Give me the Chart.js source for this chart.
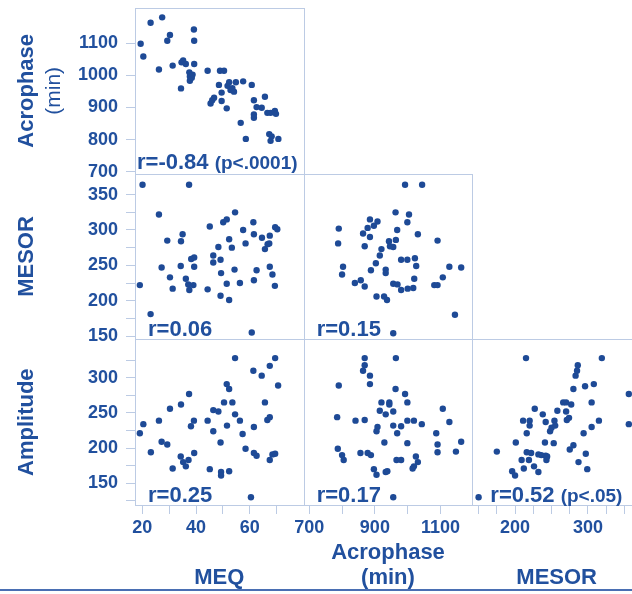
<!DOCTYPE html>
<html>
<head>
<meta charset="utf-8">
<script src="https://cdn.jsdelivr.net/npm/chart.js@4.4.1/dist/chart.umd.min.js"></script>
<style>
  html, body { margin: 0; padding: 0; background: #fff; overflow: hidden; }
  #wrap { position: relative; width: 632px; height: 594px; overflow: hidden; }
  #matrix { position: absolute; left: 0; top: 0; }
  #rule { position: absolute; left: 0; top: 589px; width: 632px; border-top: 2px solid #4a6fb3; }
</style>
</head>
<body>
<div id="wrap">
  <canvas id="matrix" width="645" height="594"></canvas>
  <div id="rule"></div>
</div>
<script>
// Acrophase vs MEQ
let meqA  = [19.4, 20.4, 23.1, 27.4, 26.2, 29.3, 30.3, 31.3, 34.4, 34.6, 35.2, 36.2, 37.5, 37.7, 37.7, 38.4, 39.2, 39.3, 39.3, 38.7,
             44.3, 45.4, 46.0, 46.7, 48.9, 50.4, 48.5, 49.5, 49.5, 51.4, 51.7, 52.3, 52.8, 53.5, 54.1, 54.8, 57.5, 56.6, 58.5, 60.7,
             61.5, 61.5, 61.5, 62.5, 64.4, 65.6, 66.5, 67.7, 69.3, 69.7, 67.2, 68.1, 67.7, 70.6];
let acroA = [1098, 1058, 1163, 1180, 1018, 1107, 1125, 1030, 959, 1040, 1046, 1035, 1009, 996, 983, 992, 1142, 1107, 1035, 1002,
             1014, 912, 922, 930, 1014, 1014, 970, 946, 920, 897, 967, 978, 954, 960, 949, 978, 981, 852, 802, 970,
             922, 878, 868, 901, 899, 933, 883, 883, 889, 880, 817, 810, 796, 802];

// MESOR vs MEQ
let meqB   = [20.1, 37.4, 26.2, 29.3, 35.0, 34.4, 19.1, 23.1, 27.2, 30.3, 31.3, 34.3, 36.2, 37.1, 37.5, 39.0, 38.2, 39.3, 39.3, 44.3,
              45.1, 46.4, 46.4, 48.3, 49.1, 49.3, 49.1, 50.1, 51.4, 52.3, 53.3, 51.4, 52.3, 54.3, 54.5, 56.3, 57.5, 58.4, 61.3, 61.5,
              61.5, 62.5, 64.5, 65.6, 66.6, 67.2, 67.4, 67.4, 68.4, 69.4, 70.2, 69.3, 60.7];
let mesorB = [364, 364, 322, 285, 294, 284, 222, 181, 247, 233, 217, 249, 231, 223, 215, 222, 259, 261, 248, 216,
              305, 264, 254, 276, 258, 239, 207, 311, 315, 287, 275, 224, 201, 244, 325, 225, 300, 281, 311, 294,
              229, 243, 289, 273, 280, 281, 292, 248, 237, 304, 301, 221, 155];

// MESOR vs Acrophase
let acroC  = [992, 1044, 790, 788, 885, 908, 897, 878, 864, 885, 869, 963, 1004, 999, 968, 964, 943, 946, 956, 920,
              915, 1031, 1091, 803, 800, 903, 888, 933, 933, 980, 999, 1022, 1026, 839, 857, 869, 956, 969, 980, 1000,
              1017, 1020, 905, 928, 937, 1081, 1091, 1107, 1127, 1163, 1144, 956];
let mesorC = [364, 364, 302, 281, 315, 312, 306, 303, 295, 290, 277, 325, 322, 311, 300, 286, 284, 277, 276, 273,
              264, 294, 285, 248, 237, 253, 243, 244, 239, 258, 258, 260, 249, 225, 229, 220, 224, 223, 215, 217,
              218, 231, 206, 206, 201, 222, 222, 233, 248, 247, 180, 154];

// Amplitude vs MEQ
let meqD = [19.1, 20.4, 23.2, 26.2, 27.2, 29.3, 30.3, 31.3, 34.4, 34.3, 35.2, 36.2, 37.2, 37.4, 38.1, 39.2, 39.3, 44.3, 45.1, 46.4,
            46.4, 48.3, 49.1, 49.3, 49.3, 50.4, 51.4, 52.3, 51.5, 52.3, 53.5, 54.5, 54.5, 56.3, 57.3, 58.4, 60.4, 61.3, 61.5, 61.5,
            62.5, 64.4, 65.6, 66.5, 67.4, 67.4, 69.4, 70.5, 67.4, 68.4, 69.4];
let ampD = [221, 234, 194, 239, 209, 205, 256, 171, 262, 188, 180, 174, 183, 277, 231, 239, 193, 239, 170, 254,
            224, 252, 208, 166, 161, 265, 291, 284, 232, 167, 265, 328, 248, 239, 220, 199, 130, 310, 230, 193,
            189, 303, 265, 240, 244, 317, 328, 289, 183, 191, 192];

// Amplitude vs Acrophase
let acroE = [869, 964, 869, 864, 885, 885, 790, 963, 992, 999, 920, 944, 944, 915, 933, 956, 785, 841, 869, 999,
             1019, 1043, 1107, 1127, 956, 980, 908, 905, 968, 1087, 929, 999, 1091, 1163, 787, 800, 805, 856, 878, 888,
             1091, 1147, 966, 980, 1025, 1031, 1019, 1015, 897, 905, 933, 938, 956];
let ampE  = [328, 328, 318, 310, 303, 291, 289, 284, 277, 265, 265, 265, 262, 253, 248, 252, 244, 239, 240, 239,
             239, 234, 256, 237, 232, 231, 230, 224, 221, 221, 208, 207, 205, 209, 199, 190, 183, 193, 193, 190,
             194, 195, 183, 183, 188, 180, 174, 171, 170, 162, 166, 167, 130];

// Amplitude vs MESOR
let mesorF = [150, 175, 196, 200, 201, 209, 212, 215, 211, 220, 220, 216, 216, 219, 222, 226, 227, 232, 232, 236,
              238, 241, 242, 242, 243, 244, 248, 250, 253, 254, 255, 258, 266, 270, 270, 271, 274, 277, 275, 280,
              280, 283, 285, 286, 287, 294, 296, 297, 299, 305, 305, 308, 315, 319, 356, 356];
let ampF   = [130, 195, 167, 161, 208, 183, 171, 328, 239, 239, 232, 221, 194, 183, 193, 174, 256, 166, 191, 190,
              248, 208, 237, 189, 183, 188, 224, 229, 207, 239, 232, 253, 265, 265, 252, 240, 243, 262, 198, 204,
              284, 303, 310, 318, 180, 221, 288, 192, 170, 265, 230, 291, 239, 328, 277, 234];

// correlation notes, one per panel
let rText = ['r=-0.84', 'r=0.06', 'r=0.15', 'r=0.25', 'r=0.17', 'r=0.52'];
let pText = ['(p<.0001)', '', '', '', '', '(p<.05)'];

// ticks and which of them carry a label
let meqTicks = [20, 30, 40, 50, 60, 70];
let meqLabels = [20, 40, 60];
let acroTicks = [700, 800, 900, 1000, 1100];
let acroXLabels = [700, 900, 1100];
let acroYLabels = [700, 800, 900, 1000, 1100];
let mesorTicks = [150, 175, 200, 225, 250, 275, 300, 325, 350];
let mesorXLabels = [200, 300];
let mesorYLabels = [150, 200, 250, 300, 350];
let ampTicks = [125, 150, 175, 200, 225, 250, 275, 300, 325];
let ampLabels = [150, 200, 250, 300];

const ink = '#21509e';
const dotColor = '#1e4a96';
const frameColor = '#bccbe4';
const face = '"Liberation Sans", Arial, sans-serif';

function pts(xs, ys) {
    return xs.map((x, i) => ({x: x, y: ys[i]}));
}

function axis(opts) {
    return {
        type: 'linear',
        min: opts.min,
        max: opts.max,
        weight: opts.weight,
        stack: opts.stack,
        stackWeight: 1,
        position: opts.position,
        afterBuildTicks: s => { s.ticks = opts.ticks.map(v => ({value: v})); },
        afterFit: opts.fit,
        ticks: {
            autoSkip: false,
            maxRotation: 0,
            minRotation: 0,
            padding: opts.pad,
            color: ink,
            font: {family: face, size: 18, weight: 'bold'},
            callback: v => opts.labels.includes(v) ? String(v) : ''
        },
        grid: {drawOnChartArea: false, drawTicks: true, tickLength: 9, color: frameColor, lineWidth: 1},
        border: {display: true, color: frameColor, width: 1},
        title: opts.title
    };
}

// fixed box sizes so the panels land where the reference has them
const xFit = s => { s.height = 89; s.paddingLeft = 0; s.paddingRight = 0; };
const yFit = s => { s.width = 135; s.paddingTop = 0; s.paddingBottom = 0; };

const yTitlePad = 13.3;
const yTitleLine = 1.25;

function xTitle(text) {
    return {display: true, text: text, color: ink, padding: {top: 0, bottom: 3.4},
            font: {family: face, size: 22, weight: 'bold', lineHeight: 1.15}};
}
function yTitle(text) {
    return {display: true, text: text, color: ink, padding: {top: yTitlePad, bottom: 0},
            font: {family: face, size: 22, weight: 'bold', lineHeight: yTitleLine}};
}

const panelPlugin = {
    id: 'panels',
    beforeDatasetsDraw(chart) {
        const ctx = chart.ctx;
        ctx.save();
        ctx.strokeStyle = frameColor;
        ctx.lineWidth = 1;
        chart.data.datasets.forEach(ds => {
            const xs = chart.scales[ds.xAxisID], ys = chart.scales[ds.yAxisID];
            const l = Math.round(xs.left) + 0.5, t = Math.round(ys.top) + 0.5;
            ctx.strokeRect(l, t, Math.round(xs.right) - Math.round(xs.left), Math.round(ys.bottom) - Math.round(ys.top));
        });
        ctx.restore();
    },
    afterDatasetsDraw(chart) {
        const ctx = chart.ctx;
        const shift = [[2, 5], [13, 3], [13, 3], [13, 3], [13, 3], [18, 3]];
        ctx.save();
        ctx.fillStyle = ink;
        ctx.textBaseline = 'alphabetic';
        chart.data.datasets.forEach((ds, i) => {
            const xs = chart.scales[ds.xAxisID], ys = chart.scales[ds.yAxisID];
            let x = xs.left + shift[i][0];
            const y = ys.bottom - shift[i][1];
            ctx.font = 'bold 22px ' + face;
            ctx.fillText(rText[i], x, y);
            if (pText[i]) {
                x += ctx.measureText(rText[i] + ' ').width;
                ctx.font = 'bold 19px ' + face;
                ctx.fillText(pText[i], x, y);
            }
        });

        // second line of the Acrophase row title, set in regular weight
        const ya = chart.scales.yAcro;
        ctx.translate(ya.left + yTitlePad + 22 * yTitleLine * 1.5, (ya.top + ya.bottom) / 2);
        ctx.rotate(-Math.PI / 2);
        ctx.font = '21px ' + face;
        ctx.textAlign = 'center';
        ctx.textBaseline = 'middle';
        ctx.fillText('(min)', 0, 0);
        ctx.restore();
    }
};

function set(xs, ys, xId, yId) {
    return {data: pts(xs, ys), xAxisID: xId, yAxisID: yId, backgroundColor: dotColor,
            pointRadius: 3.2, borderWidth: 0, pointHoverRadius: 3.2};
}

new Chart(document.getElementById('matrix'), {
    type: 'scatter',
    data: {
        datasets: [
            set(meqA, acroA, 'xMeq', 'yAcro'),
            set(meqB, mesorB, 'xMeq', 'yMesor'),
            set(acroC, mesorC, 'xAcro', 'yMesor'),
            set(meqD, ampD, 'xMeq', 'yAmp'),
            set(acroE, ampE, 'xAcro', 'yAmp'),
            set(mesorF, ampF, 'xMesor', 'yAmp')
        ]
    },
    options: {
        responsive: false,
        animation: false,
        events: [],
        layout: {padding: {top: 8, right: 4, bottom: 0, left: 0}},
        plugins: {legend: {display: false}, tooltip: {enabled: false}},
        scales: {
            xMeq: axis({min: 17.3, max: 80, weight: 1, stack: 'cols', position: 'bottom', ticks: meqTicks, labels: meqLabels,
                        pad: 3, fit: xFit, title: xTitle('MEQ')}),
            xAcro: axis({min: 683, max: 1197, weight: 2, stack: 'cols', position: 'bottom', ticks: acroTicks, labels: acroXLabels,
                         pad: 3, fit: xFit, title: xTitle(['Acrophase', '(min)'])}),
            xMesor: axis({min: 141.4, max: 372.7, weight: 3, stack: 'cols', position: 'bottom', ticks: mesorTicks, labels: mesorXLabels,
                          pad: 3, fit: xFit, title: xTitle('MESOR')}),
            yAcro: axis({min: 694, max: 1209, weight: 3, stack: 'rows', position: 'left', ticks: acroTicks, labels: acroYLabels,
                         pad: 8, fit: yFit, title: yTitle('Acrophase')}),
            yMesor: axis({min: 145.3, max: 379.7, weight: 2, stack: 'rows', position: 'left', ticks: mesorTicks, labels: mesorYLabels,
                          pad: 8, fit: yFit, title: yTitle('MESOR')}),
            yAmp: axis({min: 119, max: 354.7, weight: 1, stack: 'rows', position: 'left', ticks: ampTicks, labels: ampLabels,
                        pad: 8, fit: yFit, title: yTitle('Amplitude')})
        }
    },
    plugins: [panelPlugin]
});
</script>
</body>
</html>
